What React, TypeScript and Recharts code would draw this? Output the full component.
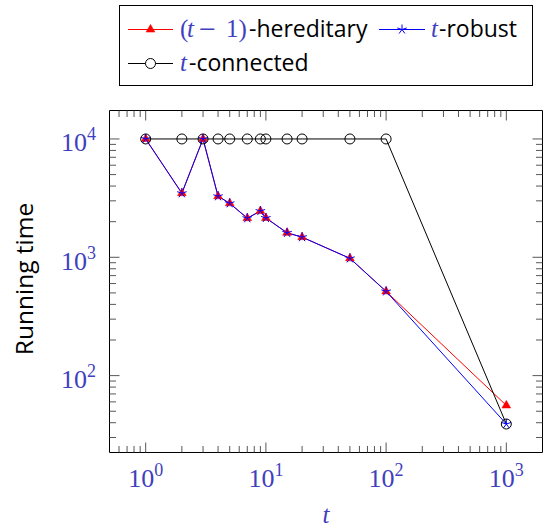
import React from "react";
import { LineChart, Line, XAxis, YAxis, Legend } from "recharts";

// values
const tValues = [1, 2, 3, 4, 5, 7, 9, 10, 15, 20, 50, 100, 1000];
const hereditaryTimes = [10000, 3480, 10000, 3280, 2860, 2140, 2460, 2150, 1610, 1480, 980, 515, 56];
const robustTimes = [10000, 3480, 10000, 3280, 2860, 2140, 2460, 2150, 1610, 1480, 980, 515, 39];
const connectedTimes = [10000, 10000, 10000, 10000, 10000, 10000, 10000, 10000, 10000, 10000, 10000, 10000, 39];

const xTicks = [
  0.6, 0.7, 0.8, 0.9, 1, 2, 3, 4, 5, 6, 7, 8, 9, 10, 20, 30, 40, 50, 60, 70, 80, 90, 100,
  200, 300, 400, 500, 600, 700, 800, 900, 1000,
];
const yTicks = [
  30, 40, 50, 60, 70, 80, 90, 100, 200, 300, 400, 500, 600, 700, 800, 900, 1000,
  2000, 3000, 4000, 5000, 6000, 7000, 8000, 9000, 10000,
];
const xDomain = [0.5, 2000];
const yDomain = [22.4, 17400];

const data = tValues.map((t, i) => ({
  t,
  hereditary: hereditaryTimes[i],
  robust: robustTimes[i],
  connected: connectedTimes[i],
}));

const MATH = "#3f3fbf";
const TICK = "#444";
const SERIF = "'Liberation Serif', serif";
const SANS = "'Open Sans', sans-serif";

const decade = (v: number) => Math.round(Math.log10(v));
const isMajor = (v: number) => Math.abs(Math.log10(v) - decade(v)) < 1e-9;

const PowerText = ({ x, y, exp, anchor }: any) => (
  <text x={x} y={y} textAnchor={anchor} fill={MATH} stroke="none" fontFamily={SERIF} fontSize={26}>
    10
    <tspan dy={-11} fontSize={18}>
      {exp}
    </tspan>
  </text>
);

const makeTick = (side: "bottom" | "top" | "left" | "right") => (props: any) => {
  const { x, y, payload, index } = props;
  const v = payload.value;
  const major = isMajor(v);
  const len = major ? 10 : 6.5;
  let end = { x2: x, y2: y - len };
  if (side === "top") end = { x2: x, y2: y + len };
  else if (side === "left") end = { x2: x + len, y2: y };
  else if (side === "right") end = { x2: x - len, y2: y };
  return (
    <g key={`${side}-${index}`}>
      <line x1={x} y1={y} {...end} stroke={TICK} strokeWidth={0.9} />
      {major && side === "bottom" && <PowerText x={x} y={y + 34} exp={decade(v)} anchor="middle" />}
      {major && side === "left" && <PowerText x={x - 13.5} y={y + 12.5} exp={decade(v)} anchor="end" />}
    </g>
  );
};

const TriangleMark = ({ cx, cy }: any) => (
  <polygon
    points={`${cx},${cy - 5} ${cx + 4.33},${cy + 2.5} ${cx - 4.33},${cy + 2.5}`}
    fill="#ff0000"
    stroke="#ff0000"
    strokeWidth={0.6}
  />
);

const StarMark = ({ cx, cy }: any) => (
  <g stroke="#0000ff" strokeWidth={1}>
    {[0, 1, 2, 3, 4].map((k) => {
      const a = (-90 + k * 72) * (Math.PI / 180);
      return <line key={k} x1={cx} y1={cy} x2={cx + 5 * Math.cos(a)} y2={cy + 5 * Math.sin(a)} />;
    })}
  </g>
);

const CircleMark = ({ cx, cy, fill = "none" }: any) => (
  <circle cx={cx} cy={cy} r={5} fill={fill} stroke="#000" strokeWidth={1} />
);

const LegendBox = () => (
  <svg width={414} height={81} style={{ display: "block" }}>
    <rect x={0.5} y={0.5} width={413} height={80} fill="#fff" stroke="#000" strokeWidth={1} />
    {/* row 1 */}
    <line x1={9} y1={24.5} x2={54} y2={24.5} stroke="#ff0000" strokeWidth={1} />
    <TriangleMark cx={31.5} cy={24.5} />
    <text y={31.7} fontSize={25} fontFamily={SERIF} fill={MATH}>
      <tspan x={61}>(</tspan>
      <tspan x={68} fontStyle="italic">t</tspan>
      <tspan x={80} y={33.5} fontSize={30}>−</tspan>
      <tspan x={107} y={31.7}>1)</tspan>
      <tspan x={130} fontFamily={SANS} fontSize={23} fill="#000">-hereditary</tspan>
    </text>
    <line x1={260} y1={24.5} x2={306} y2={24.5} stroke="#0000ff" strokeWidth={1} />
    <StarMark cx={283} cy={24.5} />
    <text y={31.7} fontSize={25} fontFamily={SERIF} fill={MATH}>
      <tspan x={312} fontStyle="italic">t</tspan>
      <tspan x={320} fontFamily={SANS} fontSize={23} fill="#000">-robust</tspan>
    </text>
    {/* row 2 */}
    <line x1={9} y1={58.5} x2={54} y2={58.5} stroke="#000" strokeWidth={1} />
    <CircleMark cx={31.5} cy={58.5} fill="#fff" />
    <text y={66} fontSize={25} fontFamily={SERIF} fill={MATH}>
      <tspan x={61} fontStyle="italic">t</tspan>
      <tspan x={70} fontFamily={SANS} fontSize={23} fill="#000">-connected</tspan>
    </text>
  </svg>
);

export default function App() {
  const frame = { stroke: "#000", strokeWidth: 1 };
  return (
    <div style={{ position: "absolute", left: 0, top: 0, background: "#fff" }}>
      <LineChart
        width={543}
        height={527}
        data={data}
        margin={{ top: 110, right: 0, bottom: 0, left: 0 }}
      >
        <XAxis
          dataKey="t"
          type="number"
          scale="log"
          domain={xDomain}
          allowDataOverflow
          ticks={xTicks}
          interval={0}
          height={74.5}
          tickSize={0}
          tickMargin={0}
          tickLine={false}
          axisLine={frame}
          tick={makeTick("bottom")}
          label={{
            value: "t",
            position: "center",
            dy: 24.3,
            style: { fontFamily: SERIF, fontStyle: "italic", fontSize: 25, fill: MATH },
          }}
        />
        <XAxis
          xAxisId="top"
          orientation="top"
          dataKey="t"
          type="number"
          scale="log"
          domain={xDomain}
          allowDataOverflow
          ticks={xTicks}
          interval={0}
          height={0.5}
          tickSize={0}
          tickMargin={0}
          tickLine={false}
          axisLine={frame}
          tick={makeTick("top")}
        />
        <YAxis
          type="number"
          scale="log"
          domain={yDomain}
          allowDataOverflow
          ticks={yTicks}
          interval={0}
          width={109.5}
          tickSize={0}
          tickMargin={0}
          tickLine={false}
          axisLine={frame}
          tick={makeTick("left")}
          label={{
            value: "Running time",
            angle: -90,
            position: "center",
            dx: -30.2,
            dy: -2.5,
            style: { fontFamily: SANS, fontSize: 24.5, fill: "#000" },
          }}
        />
        <YAxis
          yAxisId="right"
          orientation="right"
          type="number"
          scale="log"
          domain={yDomain}
          allowDataOverflow
          ticks={yTicks}
          interval={0}
          width={0.5}
          tickSize={0}
          tickMargin={0}
          tickLine={false}
          axisLine={frame}
          tick={makeTick("right")}
        />
        <Line
          dataKey="hereditary"
          type="linear"
          stroke="#ff0000"
          strokeWidth={1}
          dot={(p: any) => <TriangleMark key={`h-${p.index}`} cx={p.cx} cy={p.cy} />}
          activeDot={false}
          isAnimationActive={false}
        />
        <Line
          dataKey="robust"
          type="linear"
          stroke="#0000ff"
          strokeWidth={1}
          dot={(p: any) => <StarMark key={`r-${p.index}`} cx={p.cx} cy={p.cy} />}
          activeDot={false}
          isAnimationActive={false}
        />
        <Line
          dataKey="connected"
          type="linear"
          stroke="#000"
          strokeWidth={1}
          dot={(p: any) => <CircleMark key={`c-${p.index}`} cx={p.cx} cy={p.cy} />}
          activeDot={false}
          isAnimationActive={false}
        />
        <Legend
          layout="horizontal"
          verticalAlign="middle"
          align="center"
          content={() => <LegendBox />}
          wrapperStyle={{ left: 119, top: 5, width: 414, height: 81 }}
        />
      </LineChart>
    </div>
  );
}
